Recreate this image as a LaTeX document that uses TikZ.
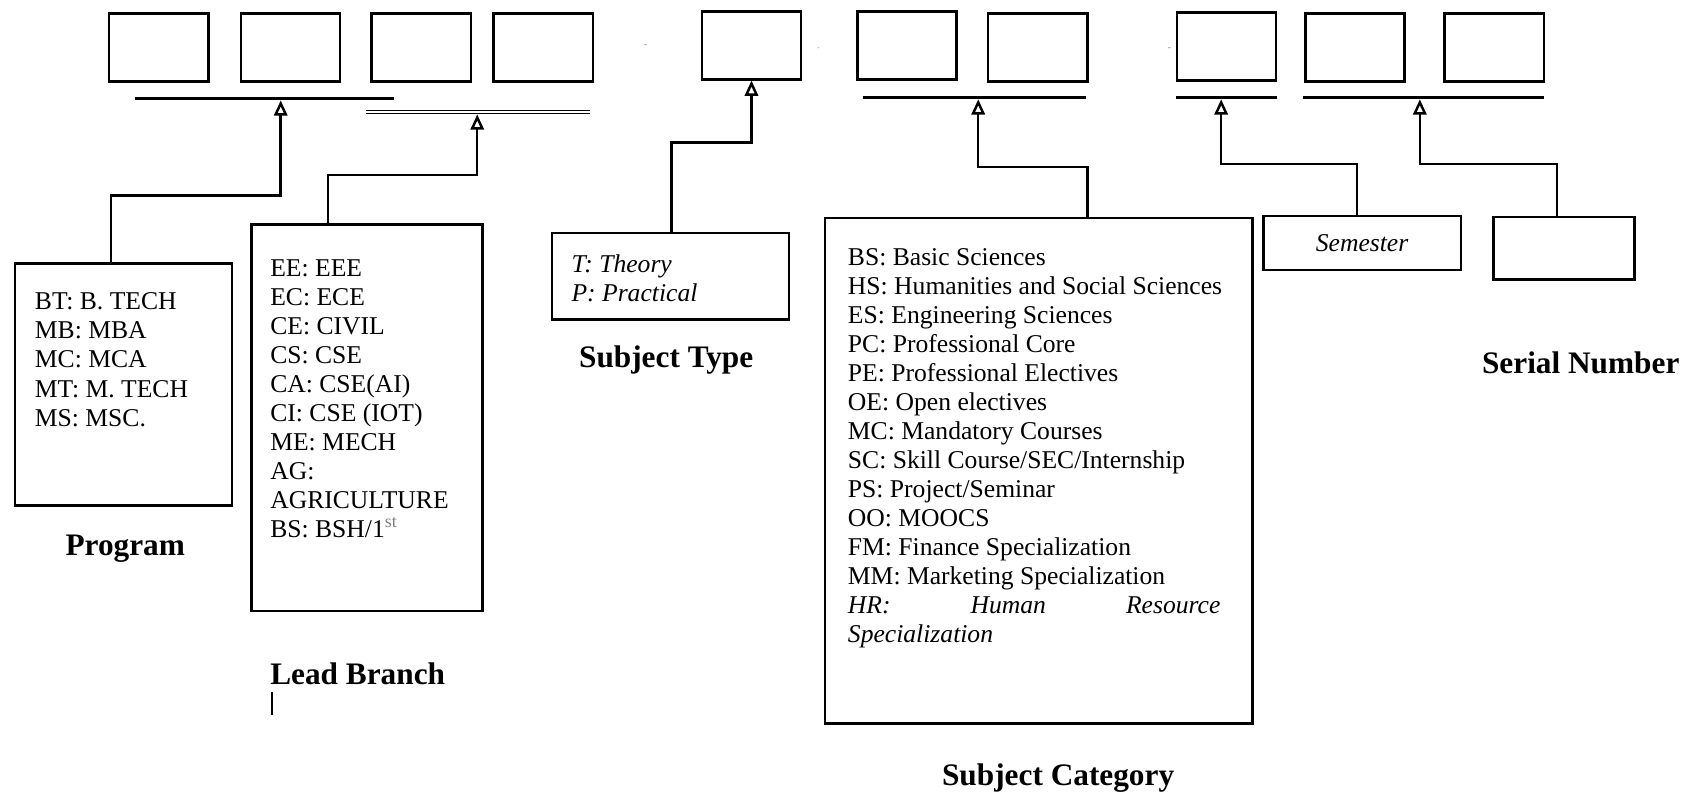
\documentclass[tikz,border=0pt]{standalone}
\usepackage{fontspec}
\setmainfont{Liberation Serif}
\usetikzlibrary{arrows.meta}
\newcommand{\boxfont}{\fontsize{13.5}{15.3}\selectfont}
\newcommand{\capfont}{\fontsize{16.5}{19}\selectfont\bfseries}

\begin{document}
\begin{tikzpicture}[x=0.02cm, y=-0.02cm,
  digitbox/.style={draw, line width=1.3pt, inner sep=0pt,
                   minimum width=1.84cm, minimum height=1.26cm},
  infobox/.style={draw, line width=1.3pt, inner sep=0pt},
  listtext/.style={anchor=north west, align=left, inner sep=0pt, font=\boxfont},
  caption/.style={inner sep=0pt, font=\capfont},
  bar/.style={line width=1.5pt},
  conn/.style={line width=1.3pt, -{Triangle[open, length=8pt, width=7pt]}}]
  \useasboundingbox (0,0) rectangle (1568,734);

  \foreach \n/\x/\y in {1/147/44, 2/269/44, 3/390/44, 4/503/44, 5/696/42,
                        6/840/42, 7/961/44, 8/1136/43, 9/1255/44, 10/1384/44}
    \node[digitbox] (d\n) at (\x,\y) {};
  \node[font=\tiny, text=gray] (m1) at (598,43) {-};
  \node[font=\tiny, text=gray!60] (m2) at (758,46) {-};
  \node[font=\tiny, text=gray] (m3) at (1083,46) {-};

  \draw[bar] (125,91) -- (365,91);
  \draw[line width=0.6pt, double, double distance=1pt] (339,104) -- (546,104);
  \draw[bar] (799,90) -- (1006,90);
  \draw[bar] (1089,90) -- (1183,90);
  \draw[bar] (1207,90) -- (1430,90);
  \coordinate (a1) at (260,93);
  \coordinate (a2) at (442,106);
  \coordinate (a4) at (906,92);
  \coordinate (a5) at (1131,92);
  \coordinate (a6) at (1315,92);

  \node[infobox, minimum width=4.02cm, minimum height=4.48cm] (prog) at (114.5,356) {};
  \node[infobox, minimum width=4.28cm, minimum height=7.16cm] (branch) at (340,387) {};
  \node[infobox, minimum width=4.4cm, minimum height=1.6cm] (stype) at (621,256) {};
  \node[infobox, minimum width=7.92cm, minimum height=9.36cm] (scat) at (962,436) {};
  \node[infobox, minimum width=3.66cm, minimum height=1.0cm,
        font=\boxfont\itshape] (sem) at (1261.5,225) {Semester};
  \node[infobox, minimum width=2.62cm, minimum height=1.16cm] (serial) at (1448.5,230) {};

  \node[listtext] (progtxt) at (32,271)
    {BT: B. TECH\\ MB: MBA\\ MC: MCA\\ MT: M. TECH\\ MS: MSC.};
  \node[listtext] (branchtxt) at (250,240)
    {EE: EEE\\ EC: ECE\\ CE: CIVIL\\ CS: CSE\\ CA: CSE(AI)\\ CI: CSE (IOT)\\
     ME: MECH\\ AG:\\ AGRICULTURE\\ BS: BSH/1\textsuperscript{\color{gray}st}};
  \node[listtext, font=\boxfont\itshape] (typetxt) at (529,236)
    {T: Theory\\ P: Practical};
  \node[listtext] (cattxt) at (785,230)
    {BS: Basic Sciences\\
     HS: Humanities and Social Sciences\\
     ES: Engineering Sciences\\
     PC: Professional Core\\
     PE: Professional Electives\\
     OE: Open electives\\
     MC: Mandatory Courses\\
     SC: Skill Course/SEC/Internship\\
     PS: Project/Seminar\\
     OO: MOOCS\\
     FM: Finance Specialization\\
     MM: Marketing Specialization\\
     \makebox[6.9cm][s]{\itshape HR:\hfill Human\hfill Resource}\\
     \textit{Specialization}};

  \node[caption] (progcap) at (116,508) {Program};
  \node[caption, anchor=west] (branchcap) at (250,624) {Lead Branch};
  \node[caption] (typecap) at (617,333) {Subject Type};
  \node[caption] (catcap) at (980,721) {Subject Category};
  \node[caption] (serialcap) at (1464,336) {Serial Number};
  \draw[line width=0.7pt] (252,641) -- (252,662);

  \draw[conn] (prog.north -| 103,0) -- ++(0,-62) -| (a1);
  \draw[conn] (branch.north -| 304,0) -- ++(0,-45) -| (a2);
  \draw[conn] (stype.north -| 622,0) -- ++(0,-83) -| (d5.south);
  \draw[conn] (scat.north -| 1007,0) -- ++(0,-46) -| (a4);
  \draw[conn] (sem.north -| 1257,0) -- ++(0,-47) -| (a5);
  \draw[conn] (serial.north -| 1442,0) -- ++(0,-48) -| (a6);
\end{tikzpicture}
\end{document}
